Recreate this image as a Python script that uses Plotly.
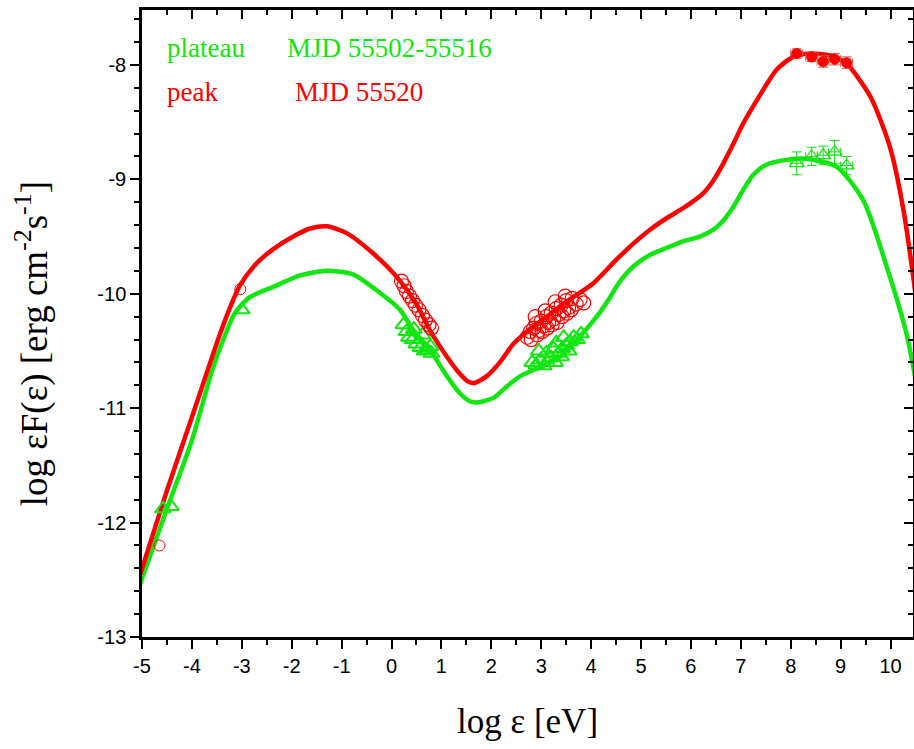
import plotly.graph_objects as go

# ---- model curves ----
peak_curve_x = [-5.05, -4.5, -4.0, -3.5, -3.29, -3.04, -2.74, -2.37, -1.97, -1.63, -1.3, -0.9, -0.36, 0.1,
                0.5, 0.77, 1.11, 1.37, 1.54, 1.66, 1.91, 2.17, 2.44, 2.8, 3.11, 3.5, 4.04, 4.51, 4.85, 5.18,
                5.51, 5.85, 6.05, 6.25, 6.45, 6.65, 6.85, 7.05, 7.32, 7.72, 8.05, 8.39, 8.8, 9.12, 9.6,
                9.99, 10.26, 10.5]
peak_curve_y = [-12.47, -11.72, -11.08, -10.43, -10.18, -9.93, -9.75, -9.61, -9.50, -9.43, -9.41, -9.47, -9.65, -9.85,
                -10.09, -10.32, -10.55, -10.70, -10.77, -10.78, -10.72, -10.60, -10.44, -10.30, -10.20, -10.07, -9.91, -9.70, -9.56, -9.44,
                -9.34, -9.25, -9.19, -9.12, -9.01, -8.86, -8.69, -8.51, -8.31, -8.04, -7.93, -7.90, -7.92, -7.99, -8.28,
                -8.72, -9.27, -10.0]

plat_curve_x = [-5.05, -4.5, -4.0, -3.6, -3.37, -3.14, -2.84, -2.37, -1.83, -1.3, -0.77, -0.3, 0.17, 0.44, 0.77,
                1.11, 1.37, 1.57, 1.72, 2.04, 2.31, 2.58, 2.98, 3.38, 3.78, 4.18, 4.38, 4.58, 4.85, 5.18,
                5.51, 5.85, 6.18, 6.45, 6.65, 6.85, 7.05, 7.25, 7.52, 7.92, 8.3, 8.92, 9.45, 9.92, 10.32, 10.5]
plat_curve_y = [-12.55, -11.88, -11.28, -10.68, -10.40, -10.17, -10.03, -9.94, -9.84, -9.80, -9.83, -9.97, -10.14, -10.32, -10.49,
                -10.72, -10.87, -10.94, -10.95, -10.91, -10.81, -10.72, -10.64, -10.55, -10.37, -10.16, -10.03, -9.89, -9.76, -9.66,
                -9.60, -9.54, -9.50, -9.44, -9.36, -9.24, -9.09, -8.96, -8.87, -8.83, -8.82, -8.89, -9.18, -9.76, -10.35, -10.75]

# ---- peak data (red) ----
peak_low_x = [-4.65, -3.03]
peak_low_y = [-12.20, -9.96]
peak_opt_x = [0.20, 0.25, 0.30, 0.36, 0.42, 0.48, 0.55, 0.62, 0.68, 0.75, 0.80]
peak_opt_y = [-9.89, -9.93, -9.98, -10.02, -10.06, -10.10, -10.14, -10.19, -10.23, -10.27, -10.30]
peak_xr_x = [2.72, 2.78, 2.85, 2.90, 2.95, 3.00, 3.05, 3.10, 3.15, 3.20, 3.25, 3.30, 3.35, 3.40, 3.45, 3.50,
             3.55, 3.62, 3.70, 3.78, 3.85, 2.80, 2.92, 3.02, 3.12, 3.22, 3.32, 3.42, 3.52, 3.60, 2.88, 3.08, 3.28, 3.48]
peak_xr_y = [-10.38, -10.33, -10.30, -10.26, -10.32, -10.24, -10.28, -10.20, -10.25, -10.17, -10.22, -10.13, -10.18, -10.10, -10.15, -10.06,
             -10.12, -10.04, -10.09, -10.05, -10.08, -10.40, -10.36, -10.33, -10.30, -10.27, -10.25, -10.20, -10.17, -10.14, -10.20, -10.15, -10.07, -10.02]
peak_gam_x = [8.12, 8.42, 8.65, 8.88, 9.12]
peak_gam_y = [-7.90, -7.93, -7.97, -7.95, -7.98]
peak_gam_ex = [0.12, 0.12, 0.12, 0.12, 0.12]
peak_gam_ey = [0.04, 0.04, 0.05, 0.05, 0.05]

# ---- plateau data (green) ----
plat_low_x = [-4.58, -4.42, -3.0]
plat_low_y = [-11.88, -11.86, -10.14]
plat_opt_x = [0.24, 0.30, 0.35, 0.42, 0.50, 0.58, 0.66, 0.72, 0.78, 0.45, 0.62, 0.80]
plat_opt_y = [-10.27, -10.33, -10.38, -10.40, -10.44, -10.47, -10.50, -10.49, -10.46, -10.31, -10.36, -10.52]
plat_xr_x = [2.82, 2.90, 2.98, 3.05, 3.12, 3.20, 3.28, 3.35, 3.42, 3.50, 3.58, 3.65, 3.72, 3.80,
             2.95, 3.10, 3.25, 3.40, 3.55, 3.30, 3.45]
plat_xr_y = [-10.60, -10.62, -10.58, -10.63, -10.60, -10.56, -10.60, -10.52, -10.48, -10.45, -10.42, -10.38, -10.40, -10.35,
             -10.50, -10.52, -10.48, -10.55, -10.50, -10.43, -10.38]
plat_gam_x = [8.12, 8.42, 8.65, 8.88, 9.12]
plat_gam_y = [-8.86, -8.80, -8.79, -8.76, -8.88]
plat_gam_ex = [0.12, 0.12, 0.12, 0.12, 0.12]
plat_gam_ey = [0.10, 0.08, 0.08, 0.10, 0.08]

x_ticks = list(range(-5, 11))
y_ticks = [-13, -12, -11, -10, -9, -8]

RED = "#ff0000"
GREEN = "#11e611"
SERIF = "Liberation Serif, Times New Roman, serif"
SANS = "Liberation Sans, Arial, sans-serif"

fig = go.Figure()

fig.add_trace(go.Scatter(x=plat_curve_x, y=plat_curve_y, mode="lines",
                         line=dict(color=GREEN, width=4.5, shape="spline", smoothing=0.7), showlegend=False))
fig.add_trace(go.Scatter(x=peak_curve_x, y=peak_curve_y, mode="lines",
                         line=dict(color=RED, width=4.5, shape="spline", smoothing=0.7), showlegend=False))

tri = dict(symbol="triangle-up-open", color=GREEN, size=14, line=dict(color=GREEN, width=2))
for xs, ys in [(plat_low_x, plat_low_y), (plat_opt_x, plat_opt_y), (plat_xr_x, plat_xr_y)]:
    fig.add_trace(go.Scatter(x=xs, y=ys, mode="markers", marker=tri, showlegend=False))
fig.add_trace(go.Scatter(x=plat_gam_x, y=plat_gam_y, mode="markers",
                         marker=dict(symbol="triangle-up-open", color=GREEN, size=13, line=dict(color=GREEN, width=1.2)),
                         error_x=dict(type="data", array=plat_gam_ex, color=GREEN, thickness=1, width=4),
                         error_y=dict(type="data", array=plat_gam_ey, color=GREEN, thickness=1, width=5),
                         showlegend=False))

circ = dict(symbol="circle-open", color=RED, size=14, line=dict(color=RED, width=1.2))
fig.add_trace(go.Scatter(x=peak_low_x, y=peak_low_y, mode="markers",
                         marker=dict(symbol="circle-open", color=RED, size=11, line=dict(color=RED, width=1)),
                         showlegend=False))
for xs, ys in [(peak_opt_x, peak_opt_y), (peak_xr_x, peak_xr_y)]:
    fig.add_trace(go.Scatter(x=xs, y=ys, mode="markers", marker=circ, showlegend=False))
fig.add_trace(go.Scatter(x=peak_gam_x, y=peak_gam_y, mode="markers",
                         marker=dict(symbol="circle", color=RED, size=11),
                         error_x=dict(type="data", array=peak_gam_ex, color="#d05050", thickness=1, width=4),
                         error_y=dict(type="data", array=peak_gam_ey, color="#d05050", thickness=1, width=5),
                         showlegend=False))

# dummy trace for mirrored axes
fig.add_trace(go.Scatter(x=[0], y=[-10], xaxis="x2", yaxis="y2", mode="markers",
                         marker=dict(opacity=0), hoverinfo="skip", showlegend=False))

XR = [-5, 10.45]
YR = [-13, -7.52]

fig.update_layout(
    width=914, height=749,
    margin=dict(l=142, r=1, t=10, b=112),
    paper_bgcolor="white", plot_bgcolor="white",
    showlegend=False,
    xaxis=dict(range=XR, tickvals=x_ticks, ticktext=[str(v) for v in x_ticks],
               ticks="outside", ticklen=9, tickwidth=2, tickcolor="black",
               minor=dict(dtick=0.5, tick0=-5, ticks="outside", ticklen=5, tickwidth=2, tickcolor="black"),
               showline=True, linewidth=2.5, linecolor="black", showgrid=False, zeroline=False,
               tickfont=dict(family=SANS, size=20, color="black")),
    yaxis=dict(range=YR, tickvals=y_ticks, ticktext=[str(v) for v in y_ticks],
               ticks="outside", ticklen=9, tickwidth=2, tickcolor="black",
               minor=dict(dtick=0.2, tick0=-13, ticks="outside", ticklen=5, tickwidth=2, tickcolor="black"),
               showline=True, linewidth=2.5, linecolor="black", showgrid=False, zeroline=False,
               tickfont=dict(family=SANS, size=20, color="black")),
    xaxis2=dict(range=XR, overlaying="x", side="top", anchor="y", tickvals=x_ticks,
                showticklabels=False, ticks="inside", ticklen=9, tickwidth=2, tickcolor="black",
                minor=dict(dtick=0.5, tick0=-5, ticks="inside", ticklen=5, tickwidth=2, tickcolor="black"),
                showline=True, linewidth=2.5, linecolor="black", showgrid=False, zeroline=False),
    yaxis2=dict(range=YR, overlaying="y", side="right", anchor="x", tickvals=y_ticks,
                showticklabels=False, ticks="inside", ticklen=9, tickwidth=2, tickcolor="black",
                minor=dict(dtick=0.2, tick0=-13, ticks="inside", ticklen=5, tickwidth=2, tickcolor="black"),
                showline=True, linewidth=2.5, linecolor="black", showgrid=False, zeroline=False),
)

anns = [
    dict(x=-4.54, y=-7.85, text="plateau", color=GREEN),
    dict(x=-2.13, y=-7.85, text="MJD 55502-55516", color=GREEN),
    dict(x=-4.54, y=-8.24, text="peak", color=RED),
    dict(x=-1.97, y=-8.24, text="MJD 55520", color=RED),
]
for a in anns:
    fig.add_annotation(x=a["x"], y=a["y"], xref="x", yref="y", text=a["text"], showarrow=False,
                       xanchor="left", yanchor="middle",
                       font=dict(family=SERIF, size=27, color=a["color"]))

fig.add_annotation(x=0.5, y=-0.135, xref="paper", yref="paper", text="log ε [eV]", showarrow=False,
                   xanchor="center", yanchor="middle", font=dict(family=SERIF, size=35, color="black"))
fig.add_annotation(x=-0.143, y=0.468, xref="paper", yref="paper",
                   text="log εF(ε) [erg cm<sup>-2</sup>s<sup>-1</sup>]", showarrow=False, textangle=-90,
                   xanchor="center", yanchor="middle", font=dict(family=SERIF, size=37, color="black"))

fig.write_html("out.html", config={"displayModeBar": False},
               post_script="document.body.style.margin='0';")
